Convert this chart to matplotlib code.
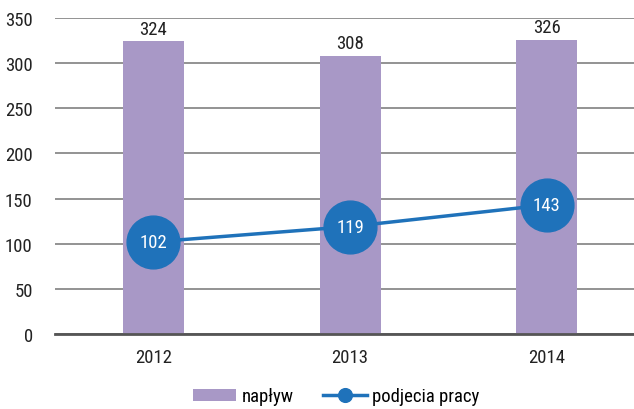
import numpy as np
import matplotlib
matplotlib.use('Agg')
import matplotlib.pyplot as plt

plt.rcParams['font.family'] = ['Liberation Sans Narrow', 'DejaVu Sans Condensed',
                               'Roboto Condensed', 'Roboto', 'DejaVu Sans']

# data
years = ['2012', '2013', '2014']
naplyw = [324, 308, 326]
podjecia = [102, 119, 143]

bar_color = '#A898C6'
line_color = '#1F72BA'

fig = plt.figure(figsize=(6.34, 4.10), dpi=100)
ax = fig.add_axes([55 / 634, (410 - 335) / 410, (634 - 55) / 634, 316 / 410])

x = np.arange(len(years))
bars = ax.bar(x, naplyw, width=0.31, color=bar_color, label='napływ', zorder=2)
line, = ax.plot(x, podjecia, color=line_color, linewidth=2.5, marker='o', markersize=38,
                label='podjecia pracy', zorder=3)

for xi, v in zip(x, naplyw):
    ax.text(xi, v + 4, str(v), ha='center', va='bottom', fontsize=13.5, color='#222222')
for xi, v in zip(x, podjecia):
    ax.text(xi, v, str(v), ha='center', va='center', fontsize=13.5, color='white', zorder=4)

ax.set_xlim(-0.5, (634 - 155) / 196)
ax.set_ylim(0, 350)
ax.set_yticks(range(0, 351, 50))
ax.set_xticks(x)
ax.set_xticklabels(years)
ax.yaxis.grid(True, color='#808080', linewidth=1.2, zorder=0)
ax.set_axisbelow(True)
for s in ['top', 'right', 'left']:
    ax.spines[s].set_visible(False)
ax.spines['bottom'].set_color('#555555')
ax.spines['bottom'].set_linewidth(2)
ax.tick_params(length=0, labelsize=13.5, colors='#222222', pad=10)
ax.tick_params(axis='y', pad=16)

leg = fig.legend([bars, line], ['napływ', 'podjecia pracy'], loc='lower center',
                 bbox_to_anchor=(0.53, -0.032), ncol=2, frameon=False,
                 fontsize=13.5, markerscale=0.26, handlelength=2.3, handleheight=0.6,
                 handletextpad=0.3, columnspacing=1.6)

fig.savefig('out.png', dpi=100)
